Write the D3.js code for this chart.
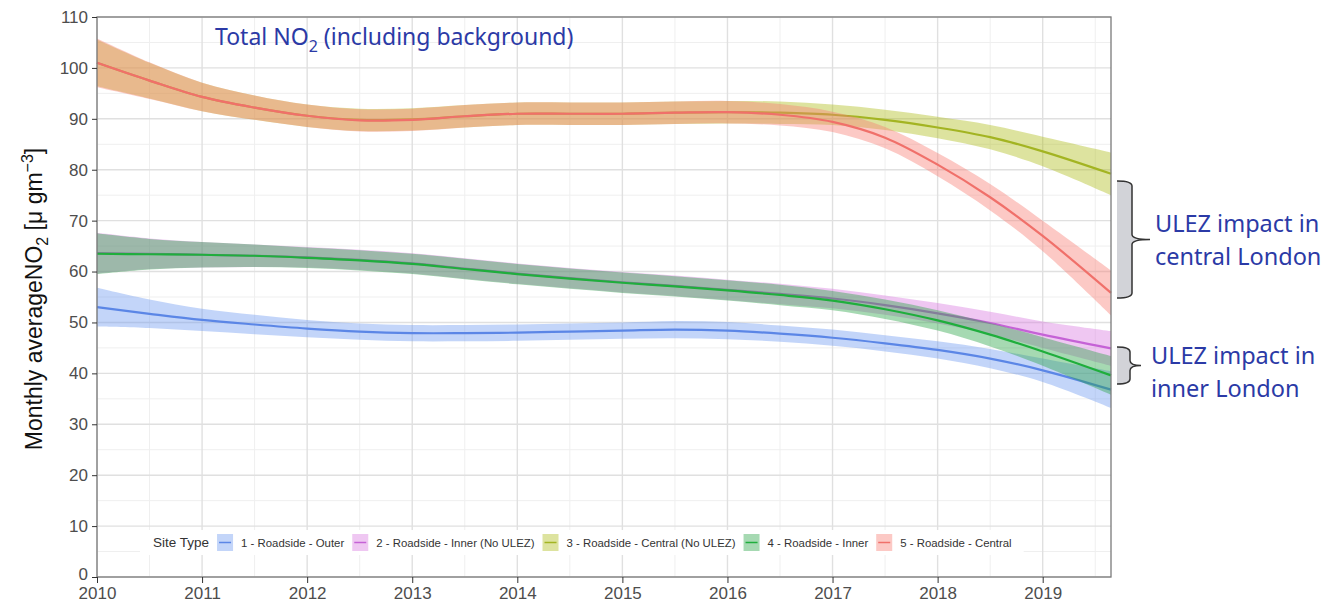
<!DOCTYPE html>
<html>
<meta charset="utf-8">
<head>
  <title>Monthly average NO2 by site type</title>
</head>
<style>
body { margin: 0; background: #fff; }
svg { display: block; background: #fff; }
.axis text { font: 17px "Liberation Sans", Arial, sans-serif; fill: #4d4d4d; }
.axis line { stroke: #333; }
.axis path { display: none; }
.note { font-family: "Noto Sans", "Open Sans", sans-serif; fill: #2b3aa6; }
.legend text { font: 11.4px "Liberation Sans", Arial, sans-serif; fill: #333; }
</style>
<body>
<script src="https://cdnjs.cloudflare.com/ajax/libs/d3/7.8.5/d3.min.js"></script>
<script>

var width = 1328, height = 603;
var margin = {top: 17, right: 217, bottom: 26, left: 97};

// time points (decimal year) of the smoothed fits
var years = [2010, 2010.5, 2011, 2011.5, 2012, 2012.5, 2013, 2013.5, 2014, 2014.5,
             2015, 2015.5, 2016, 2016.5, 2017, 2017.5, 2018, 2018.5, 2019, 2019.65];

var siteTypes = ["1 - Roadside - Outer", "2 - Roadside - Inner (No ULEZ)",
  "3 - Roadside - Central (No ULEZ)", "4 - Roadside - Inner", "5 - Roadside - Central"];

// fitted values and half width of the confidence band
var outerFit  = [53.0, 51.7, 50.5, 49.6, 48.8, 48.2, 47.9, 47.9, 48.0, 48.2, 48.4, 48.6, 48.4, 47.8, 47.0, 45.9, 44.6, 42.9, 40.6, 36.8];
var outerBand = [3.8, 2.8, 2.2, 1.9, 1.7, 1.6, 1.6, 1.6, 1.6, 1.6, 1.6, 1.7, 1.7, 1.6, 1.6, 1.6, 1.7, 1.9, 2.3, 3.6];

var innerNoUlezFit  = [63.6, 63.5, 63.3, 63.1, 62.8, 62.3, 61.6, 60.6, 59.6, 58.7, 57.9, 57.2, 56.4, 55.6, 54.7, 53.4, 51.8, 49.9, 47.6, 44.9];
var innerNoUlezBand = [4.0, 3.0, 2.5, 2.2, 2.0, 2.0, 2.0, 2.0, 2.0, 2.0, 2.0, 2.0, 2.0, 2.0, 1.9, 1.9, 2.0, 2.2, 2.6, 3.4];

var centralNoUlezFit  = [101.0, 97.5, 94.3, 92.2, 90.6, 89.8, 89.9, 90.5, 91.0, 91.0, 91.0, 91.2, 91.3, 91.2, 90.8, 89.8, 88.3, 86.4, 83.6, 79.2];
var centralNoUlezBand = [4.6, 3.5, 2.8, 2.4, 2.2, 2.2, 2.2, 2.2, 2.2, 2.2, 2.2, 2.2, 2.2, 2.2, 2.0, 2.0, 2.1, 2.4, 2.9, 4.2];

var innerFit  = [63.5, 63.4, 63.3, 63.1, 62.7, 62.2, 61.5, 60.5, 59.5, 58.6, 57.8, 57.1, 56.3, 55.4, 54.3, 52.6, 50.4, 47.6, 44.3, 39.6];
var innerBand = [4.0, 3.0, 2.5, 2.2, 2.0, 2.0, 2.0, 2.0, 2.0, 2.0, 2.0, 2.0, 2.0, 2.0, 1.9, 1.9, 2.0, 2.3, 2.8, 3.8];

var centralFit  = [101.0, 97.5, 94.3, 92.2, 90.6, 89.7, 89.8, 90.5, 91.0, 91.0, 91.0, 91.2, 91.3, 90.8, 89.4, 86.3, 81.0, 74.6, 67.0, 55.8];
var centralBand = [4.8, 3.6, 2.8, 2.4, 2.2, 2.2, 2.2, 2.2, 2.2, 2.2, 2.2, 2.2, 2.2, 2.1, 2.0, 2.1, 2.3, 2.6, 3.0, 4.4];

var yearTicks = [2010, 2011, 2012, 2013, 2014, 2015, 2016, 2017, 2018, 2019];
var yTicks = [0, 10, 20, 30, 40, 50, 60, 70, 80, 90, 100, 110];

var lineColors = ["#5b86e6", "#c562d6", "#a3b422", "#1fae3c", "#f0706a"];
var bandColors = ["#6f9cf0", "#da7ae0", "#aebc1a", "#2aa548", "#f77e74"];

var series = [
  {fit: outerFit, band: outerBand},
  {fit: innerNoUlezFit, band: innerNoUlezBand},
  {fit: centralNoUlezFit, band: centralNoUlezBand},
  {fit: innerFit, band: innerBand},
  {fit: centralFit, band: centralBand}
].map(function(s, i) {
  return {
    name: siteTypes[i],
    line: lineColors[i],
    fill: bandColors[i],
    values: years.map(function(t, j) {
      return {t: t, y: s.fit[j], lo: s.fit[j] - s.band[j], hi: s.fit[j] + s.band[j]};
    })
  };
});

var svg = d3.select("body").append("svg")
    .attr("width", width)
    .attr("height", height);

var pw = width - margin.left - margin.right,
    ph = height - margin.top - margin.bottom;

var x = d3.scaleLinear().domain([2010, 2019.65]).range([0, pw]);
var y = d3.scaleLinear().domain([0, 110]).range([ph, 0]);

var g = svg.append("g")
    .attr("transform", "translate(" + margin.left + "," + margin.top + ")");

// grid, minor then major
g.append("g").selectAll("line")
  .data(d3.range(2010.5, 2019.65, 1))
  .enter().append("line")
    .attr("x1", x).attr("x2", x).attr("y1", 0).attr("y2", ph)
    .attr("stroke", "#efefef").attr("stroke-width", 1);
g.append("g").selectAll("line")
  .data(d3.range(5, 110, 10))
  .enter().append("line")
    .attr("y1", y).attr("y2", y).attr("x1", 0).attr("x2", pw)
    .attr("stroke", "#efefef").attr("stroke-width", 1);
g.append("g").selectAll("line")
  .data(yearTicks)
  .enter().append("line")
    .attr("x1", x).attr("x2", x).attr("y1", 0).attr("y2", ph)
    .attr("stroke", "#e0e0e0").attr("stroke-width", 1.4);
g.append("g").selectAll("line")
  .data(yTicks)
  .enter().append("line")
    .attr("y1", y).attr("y2", y).attr("x1", 0).attr("x2", pw)
    .attr("stroke", "#e0e0e0").attr("stroke-width", 1.4);

var area = d3.area()
    .x(function(d) { return x(d.t); })
    .y0(function(d) { return y(d.lo); })
    .y1(function(d) { return y(d.hi); })
    .curve(d3.curveCatmullRom);

var line = d3.line()
    .x(function(d) { return x(d.t); })
    .y(function(d) { return y(d.y); })
    .curve(d3.curveCatmullRom);

var sg = g.append("g").selectAll("g")
  .data(series)
  .enter().append("g");

sg.append("path")
    .attr("d", function(d) { return area(d.values); })
    .attr("fill", function(d) { return d.fill; })
    .attr("fill-opacity", 0.42);

sg.append("path")
    .attr("d", function(d) { return line(d.values); })
    .attr("fill", "none")
    .attr("stroke", function(d) { return d.line; })
    .attr("stroke-width", 2.2);

// legend inside the panel
var leg = g.append("g").attr("class", "legend")
    .attr("transform", "translate(" + (140 - margin.left) + "," + (530 - margin.top) + ")");
var legBg = leg.append("rect").attr("y", 0).attr("height", 25).attr("fill", "#fff");
var lx = 13;
var st = leg.append("text").attr("x", lx).attr("y", 17).style("font-size", "13.5px").text("Site Type");
lx += st.node().getComputedTextLength() + 8;
series.forEach(function(s) {
  leg.append("rect").attr("x", lx).attr("y", 4).attr("width", 16).attr("height", 17)
    .attr("fill", s.fill).attr("fill-opacity", 0.42);
  leg.append("line").attr("x1", lx + 2).attr("x2", lx + 14).attr("y1", 12.5).attr("y2", 12.5)
    .attr("stroke", s.line).attr("stroke-width", 1.5);
  lx += 24;
  var t = leg.append("text").attr("x", lx).attr("y", 16.5).text(s.name);
  lx += t.node().getComputedTextLength() + 8;
});
legBg.attr("width", lx + 4);

// panel border
g.append("rect").attr("width", pw).attr("height", ph)
    .attr("fill", "none").attr("stroke", "#7a7a7a").attr("stroke-width", 1.3);

// axes
g.append("g").attr("class", "axis")
    .attr("transform", "translate(0," + ph + ")")
    .call(d3.axisBottom(x).tickValues(yearTicks).tickFormat(d3.format("d")).tickSize(6).tickPadding(4));
var yAxis = g.append("g").attr("class", "axis")
    .call(d3.axisLeft(y).tickValues(yTicks).tickSize(5).tickPadding(4));
// lift the "0" label a little so it clears the first year label
yAxis.selectAll(".tick text").filter(function(d) { return d === 0; }).attr("dy", "0.12em");

// y axis title
var yl = svg.append("text")
    .attr("transform", "translate(42," + (margin.top + ph / 2 + 2) + ") rotate(-90)")
    .attr("text-anchor", "middle")
    .style("font", "23px 'Liberation Sans', Arial, sans-serif")
    .style("fill", "#111");
yl.append("tspan").text("Monthly averageNO");
yl.append("tspan").attr("dy", 6).style("font-size", "16px").text("2");
yl.append("tspan").attr("dy", -6).text(" [\u03bc gm");
yl.append("tspan").attr("dy", -9).style("font-size", "16px").text("\u22123");
yl.append("tspan").attr("dy", 9).text("]");

// annotations
var tn = svg.append("text").attr("class", "note")
    .attr("x", 215).attr("y", 45).style("font-size", "23px");
tn.append("tspan").text("Total NO");
tn.append("tspan").attr("dy", 7).style("font-size", "16px").text("2");
tn.append("tspan").attr("dy", -7).text(" (including background)");

function brace(x0, y0, y1, spine, tip) {
  var ym = (y0 + y1) / 2, r = 5;
  return "M" + x0 + "," + y0 +
    " Q" + spine + "," + y0 + " " + spine + "," + (y0 + r) +
    " L" + spine + "," + (ym - r) +
    " Q" + spine + "," + ym + " " + tip + "," + ym +
    " Q" + spine + "," + ym + " " + spine + "," + (ym + r) +
    " L" + spine + "," + (y1 - r) +
    " Q" + spine + "," + y1 + " " + x0 + "," + y1;
}

var braces = [
  {y0: 181, y1: 298, spine: 1132, tip: 1150, lines: ["ULEZ impact in", "central London"], tx: 1155, ty: 232},
  {y0: 347, y1: 384, spine: 1130, tip: 1141, lines: ["ULEZ impact in", "inner London"], tx: 1151, ty: 364}
];
braces.forEach(function(b) {
  svg.append("path").attr("d", brace(1117, b.y0, b.y1, b.spine, b.tip) + " Z")
    .attr("fill", "#d2d3d8").attr("stroke", "none");
  svg.append("path").attr("d", brace(1117, b.y0, b.y1, b.spine, b.tip))
    .attr("fill", "none").attr("stroke", "#333").attr("stroke-width", 1.5);
  b.lines.forEach(function(s, i) {
    svg.append("text").attr("class", "note")
      .attr("x", b.tx).attr("y", b.ty + i * 33)
      .style("font-size", "23.5px").text(s);
  });
});

</script>
</body>
</html>
